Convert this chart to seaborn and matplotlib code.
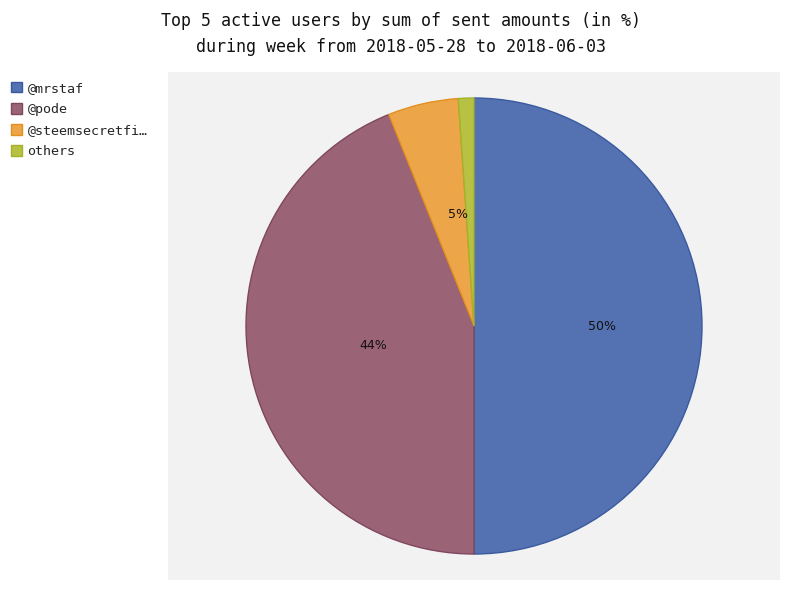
import matplotlib
matplotlib.use('Agg')
import matplotlib.pyplot as plt
import seaborn as sns
import numpy as np

# données
users = ['@mrstaf', '@pode', '@steemsecretfi…', 'others']
shares = [50.0, 43.9, 5.0, 1.1]
labels_pct = ['50%', '44%', '5%', '']
colors = ['#5471b1', '#9b6476', '#eca548', '#b7c244']
edges = ['#3a5aa0', '#7f4660', '#e3901f', '#a3b22a']

sns.set_theme(style='white')
plt.rcParams['font.family'] = ['DejaVu Sans Mono', 'DejaVu Sans']

fig = plt.figure(figsize=(8, 6), dpi=100)
ax = fig.add_axes([0.21, 0.0333, 0.765, 0.8467])

wedges, _ = ax.pie(shares, colors=colors, startangle=90, counterclock=False,
                   radius=1.0, wedgeprops=dict(linewidth=1))
for w, e in zip(wedges, edges):
    w.set_edgecolor(e)

# étiquettes de pourcentage
cumul = np.cumsum([0] + shares[:-1])
dists = [0.56, 0.45, 0.5, 0.5]
for lab, start, val, d in zip(labels_pct, cumul, shares, dists):
    if not lab:
        continue
    mid = np.deg2rad(90 - (start + val / 2) * 3.6)
    x, y = d * np.cos(mid), d * np.sin(mid)
    if lab == '5%':
        x += 0.04
    ax.text(x, y, lab, ha='center', va='center',
            fontsize=9, family='DejaVu Sans', color='#111111')

ax.set_frame_on(True)
ax.set_facecolor('#f2f2f2')
for s in ax.spines.values():
    s.set_visible(False)
ax.set_xlim(-612 / 2 / 228, 612 / 2 / 228)
ax.set_ylim(-254 / 228, 254 / 228)
ax.set_aspect('auto')
ax.set_xticks([])
ax.set_yticks([])

fig.text(0.501, 0.98, 'Top 5 active users by sum of sent amounts (in %)\nduring week from 2018-05-28 to 2018-06-03',
         ha='center', va='top', fontsize=12, linespacing=1.6, color='#111111')

fig.legend(wedges, users, loc='upper left', bbox_to_anchor=(0.007, 0.873),
           frameon=False, fontsize=9.6, handlelength=0.85, handleheight=0.85,
           handletextpad=0.4, labelspacing=0.62, borderaxespad=0)

plt.savefig('out.png', dpi=100)
